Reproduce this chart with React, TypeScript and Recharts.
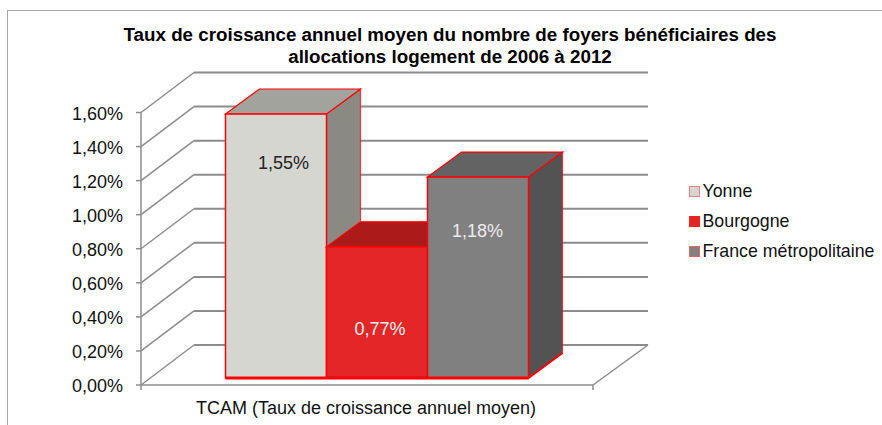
import React from "react";
import { BarChart, Bar, XAxis, YAxis, CartesianGrid, Legend, LabelList } from "recharts";

const categories = ["TCAM (Taux de croissance annuel moyen)"];
const yonneValues = [1.55];
const bourgogneValues = [0.77];
const franceValues = [1.18];
const yTicks = [0, 0.2, 0.4, 0.6, 0.8, 1.0, 1.2, 1.4, 1.6];
const titleLines = [
  "Taux de croissance annuel moyen du nombre de foyers bénéficiaires des",
  "allocations logement de 2006 à 2012",
];

const data = categories.map((category, i) => ({
  category,
  yonne: yonneValues[i],
  bourgogne: bourgogneValues[i],
  france: franceValues[i],
}));

const FONT = "'Liberation Sans', Arial, sans-serif";
const GRID = "#8c8c8c";
const WALL_DX = 53;
const WALL_DY = -40;
const BAR_SHIFT_X = 9.5;
const BAR_SHIFT_Y = -7;
const DEPTH_X = 34;
const DEPTH_Y = -25;

const fmt = (v: number) => v.toFixed(2).replace(".", ",") + "%";

const faces = {
  yonne: { front: "#d5d6d0", top: "#a2a39c", side: "#8a8a83" },
  bourgogne: { front: "#e32626", top: "#ad1a1a", side: "#8e1515" },
  france: { front: "#808080", top: "#636363", side: "#535353" },
};

const Box3D = (colors: { front: string; top: string; side: string }) => (props: any) => {
  const { x, y, width, height } = props;
  const l = x + BAR_SHIFT_X;
  const r = l + width;
  const t = y + BAR_SHIFT_Y;
  const b = t + height;
  const dx = DEPTH_X;
  const dy = DEPTH_Y;
  return (
    <g>
      <polygon points={`${r},${t} ${r + dx},${t + dy} ${r + dx},${b + dy} ${r},${b}`} fill={colors.side} stroke="#ff0000" strokeWidth={1.2} strokeOpacity={0.7} />
      <polygon points={`${l},${t} ${l + dx},${t + dy} ${r + dx},${t + dy} ${r},${t}`} fill={colors.top} stroke="#ff0000" strokeWidth={1.2} />
      <rect x={l} y={t} width={width} height={height} fill={colors.front} stroke="#ff0000" strokeWidth={1.5} />
      <line x1={l} x2={r} y1={b} y2={b} stroke="#ff0000" strokeWidth={3} />
      <line x1={r} x2={r + dx} y1={b} y2={b + dy} stroke="#ff0000" strokeWidth={2} />
    </g>
  );
};

const barLabel = (color: string, cx: number, yOff: number) => (props: any) => {
  const { x, y, width, value } = props;
  return (
    <text x={x + BAR_SHIFT_X + width / 2 + cx} y={y + BAR_SHIFT_Y + yOff} textAnchor="middle" dominantBaseline="central" fontFamily={FONT} fontSize={18} fill={color}>
      {fmt(value)}
    </text>
  );
};

const gridLine = (props: any) => {
  const { x1, x2, y1, index } = props;
  const isFloor = y1 > 380;
  return (
    <g key={`g-${index}`}>
      <line x1={x1} y1={y1} x2={x1 + WALL_DX} y2={y1 + WALL_DY} stroke={GRID} strokeWidth={1.5} />
      <line x1={x1 + WALL_DX} y1={y1 + WALL_DY} x2={x2 + WALL_DX + 2} y2={y1 + WALL_DY} stroke={GRID} strokeWidth={2} />
      {isFloor && <line x1={x2} y1={y1} x2={x2 + WALL_DX + 2} y2={y1 + WALL_DY} stroke={GRID} strokeWidth={1.5} />}
      {isFloor && <line x1={x1} y1={y1} x2={x1} y2={y1 + 5} stroke={GRID} strokeWidth={1.5} />}
      {isFloor && <line x1={x2} y1={y1} x2={x2} y2={y1 + 5} stroke={GRID} strokeWidth={1.5} />}
    </g>
  );
};

const legendItems = [
  { name: "Yonne", fill: faces.yonne.front, border: "#f58080" },
  { name: "Bourgogne", fill: faces.bourgogne.front, border: "#ee2020" },
  { name: "France métropolitaine", fill: faces.france.front, border: "#f56060" },
];

const renderLegend = () => (
  <div style={{ fontFamily: FONT, fontSize: 17.8, color: "#111", lineHeight: "30px", whiteSpace: "nowrap" }}>
    {legendItems.map((it) => (
      <div key={it.name} style={{ display: "flex", alignItems: "center", height: 30 }}>
        <span style={{ display: "inline-block", boxSizing: "border-box", width: 11, height: 11, background: it.fill, border: `1.5px solid ${it.border}`, marginRight: 3 }} />
        <span>{it.name}</span>
      </div>
    ))}
  </div>
);

export default function App() {
  return (
    <div style={{ position: "absolute", left: 0, top: 0, width: 882, height: 425, background: "#fff", overflow: "hidden" }}>
      <div style={{ position: "absolute", left: 7, top: 10, width: 900, height: 440, border: "1.5px solid #a8a8a8", boxSizing: "border-box" }} />
      <BarChart
        width={882}
        height={425}
        data={data}
        margin={{ top: 112.5, right: 99, bottom: 0, left: 0 }}
        barCategoryGap={75}
        barGap={0}
        style={{ position: "absolute", left: 0, top: 0 }}
      >
        <CartesianGrid vertical={false} horizontal={gridLine} />
        <XAxis
          dataKey="category"
          axisLine={{ stroke: GRID, strokeWidth: 1.5 }}
          tickLine={false}
          height={40}
          tick={(p: any) => (
            <text x={p.x - 1} y={p.y + 21} textAnchor="middle" fontFamily={FONT} fontSize={18} fill="#111">
              {p.payload.value}
            </text>
          )}
        />
        <YAxis
          domain={[0, 1.6]}
          ticks={yTicks}
          interval={0}
          width={141}
          axisLine={{ stroke: GRID, strokeWidth: 1.5 }}
          tickLine={{ stroke: GRID, strokeWidth: 1.5 }}
          tickSize={5}
          tickMargin={13}
          tickFormatter={fmt}
          tick={{ fontFamily: FONT, fontSize: 18, fill: "#111", dy: 1 }}
        />
        <Legend
          layout="vertical"
          align="right"
          verticalAlign="top"
          content={renderLegend}
          wrapperStyle={{ position: "absolute", left: 688.5, top: 176, width: 190 }}
        />
        <Bar dataKey="yonne" name="Yonne" isAnimationActive={false} shape={Box3D(faces.yonne)}>
          <LabelList dataKey="yonne" content={barLabel("#222", 7.5, 49)} />
        </Bar>
        <Bar dataKey="bourgogne" name="Bourgogne" isAnimationActive={false} shape={Box3D(faces.bourgogne)}>
          <LabelList dataKey="bourgogne" content={barLabel("#f2f2f2", 3, 82)} />
        </Bar>
        <Bar dataKey="france" name="France métropolitaine" isAnimationActive={false} shape={Box3D(faces.france)}>
          <LabelList dataKey="france" content={barLabel("#ececec", -0.5, 54)} />
        </Bar>
        {titleLines.map((line, i) => (
          <text key={line} x={450} y={41 + i * 22} textAnchor="middle" fontFamily={FONT} fontWeight="bold" fontSize={18.8} fill="#000">
            {line}
          </text>
        ))}
      </BarChart>
    </div>
  );
}
